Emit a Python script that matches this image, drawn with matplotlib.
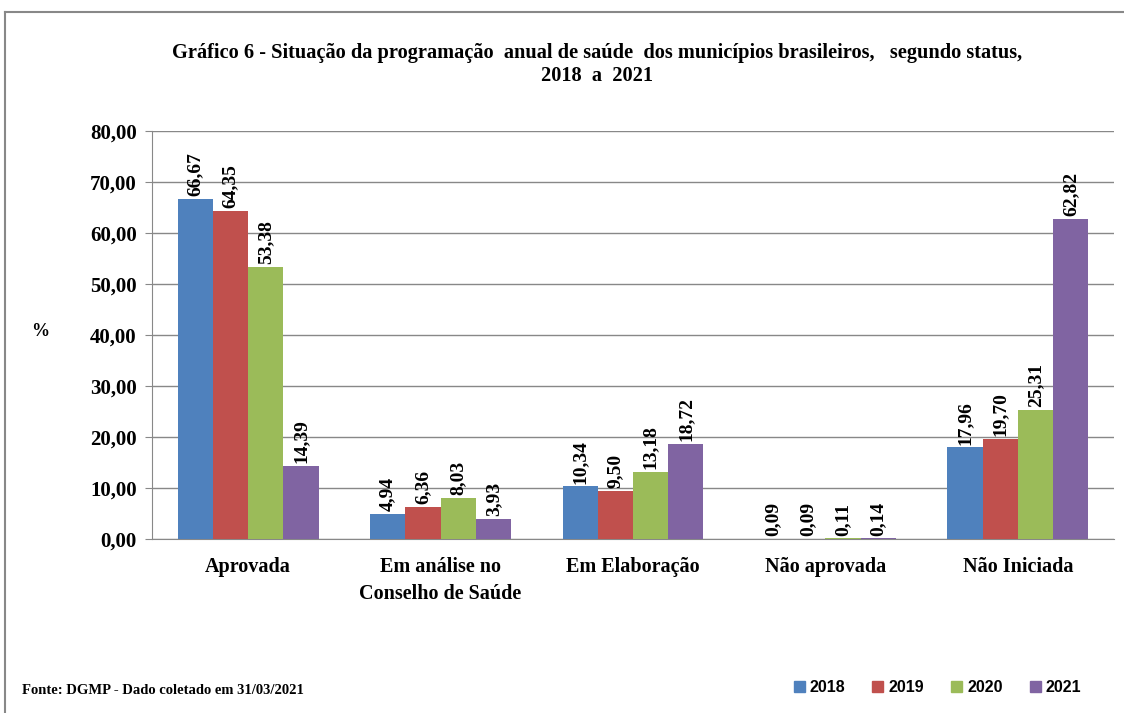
import numpy as np
import matplotlib.pyplot as plt
from matplotlib.lines import Line2D
from matplotlib.patches import Patch

categorias = ['Aprovada', 'Em análise no\nConselho de Saúde', 'Em Elaboração', 'Não aprovada', 'Não Iniciada']
anos = ['2018', '2019', '2020', '2021']
v2018 = [66.67, 4.94, 10.34, 0.09, 17.96]
v2019 = [64.35, 6.36, 9.50, 0.09, 19.70]
v2020 = [53.38, 8.03, 13.18, 0.11, 25.31]
v2021 = [14.39, 3.93, 18.72, 0.14, 62.82]
cores = ['#4F81BD', '#C0504D', '#9BBB59', '#8064A2']

serif = ['Liberation Serif', 'DejaVu Serif']
plt.rcParams['font.family'] = serif
plt.rcParams['font.weight'] = 'bold'

fig = plt.figure(figsize=(11.24, 7.13), dpi=100)
ax = fig.add_axes([0.1352, 0.244, 0.856, 0.572])

x = np.arange(len(categorias))
w = 0.183
for i, (serie, cor) in enumerate(zip([v2018, v2019, v2020, v2021], cores)):
    pos = x + (i - 1.5) * w
    barras = ax.bar(pos, serie, width=w, color=cor, zorder=3)
    for b, v in zip(barras, serie):
        ax.annotate(f'{v:.2f}'.replace('.', ','), (b.get_x() + b.get_width() / 2, v),
                    xytext=(0, 2), textcoords='offset points', rotation=90,
                    ha='center', va='bottom', fontsize=14, fontweight='bold')

ax.set_xlim(-0.5, len(categorias) - 0.5)
ax.set_ylim(0, 80)
ax.set_yticks(np.arange(0, 81, 10))
ax.set_yticklabels([f'{t:.2f}'.replace('.', ',') for t in np.arange(0, 81, 10)], fontsize=15, fontweight='bold')
ax.set_xticks(x)
ax.set_xticklabels(categorias, fontsize=14.5, fontweight='bold', linespacing=1.45)
ax.tick_params(axis='x', length=0, pad=13)
ax.tick_params(axis='y', length=5, color='#888888', pad=6)
ax.grid(axis='y', color='#888888', lw=1, zorder=0)
for s in ['top', 'right']:
    ax.spines[s].set_visible(False)
ax.spines['left'].set_color('#888888')
ax.spines['bottom'].set_color('#888888')

fig.text(0.028, 0.535, '%', fontsize=13, fontweight='bold', ha='left', va='center')
fig.text(0.531, 0.91, 'Gráfico 6 - Situação da programação  anual de saúde  dos municípios brasileiros,   segundo status,\n2018  a  2021',
         ha='center', va='center', fontsize=14.7, fontweight='bold', linespacing=1.2)
fig.text(0.02, 0.032, 'Fonte: DGMP - Dado coletado em 31/03/2021', fontsize=10.5, fontweight='bold', ha='left', va='center')

handles = [Patch(color=c, label=a) for c, a in zip(cores, anos)]
fig.legend(handles=handles, loc='center', bbox_to_anchor=(0.834, 0.036), ncol=4, frameon=False,
           prop={'family': 'Liberation Sans', 'weight': 'bold', 'size': 11.5},
           handlelength=0.7, handleheight=0.7, handletextpad=0.3, columnspacing=1.7)

# moldura
fig.add_artist(Line2D([0.0045, 1], [0.983, 0.983], transform=fig.transFigure, color='#888888', lw=1.5))
fig.add_artist(Line2D([0.0045, 0.0045], [0, 0.983], transform=fig.transFigure, color='#888888', lw=1.5))

fig.savefig('out.png', dpi=100)
